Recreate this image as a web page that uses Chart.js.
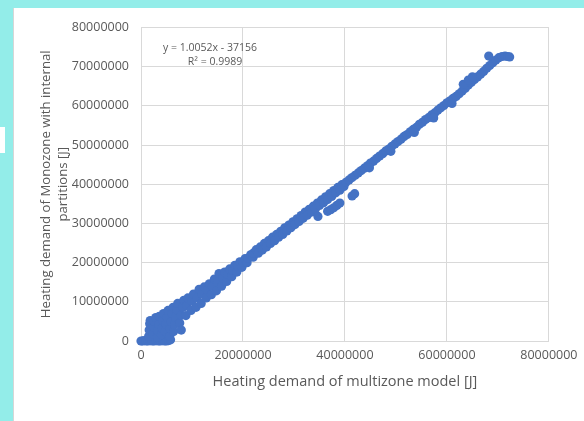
<!DOCTYPE html>
<html>
<head>
<meta charset="utf-8">
<script src="https://cdn.jsdelivr.net/npm/chart.js@4.4.1/dist/chart.umd.min.js"></script>
<style>
  html, body { margin: 0; padding: 0; }
  body { width: 584px; height: 421px; background: #93ede9; position: relative; overflow: hidden; }
  #notch { position: absolute; left: 0; top: 127px; width: 5px; height: 26px; background: #fff; }
  #panel { position: absolute; left: 13px; top: 8px; width: 571px; height: 413px; background: #fff;
           border-left: 1px solid #d6d6d6; box-sizing: border-box; }
  #chart { position: absolute; left: 14px; top: 8px; }
</style>
</head>
<body>
<div id="notch"></div>
<div id="panel"></div>
<canvas id="chart" width="570" height="413"></canvas>
<script>
// Heating demand pairs [multizone, monozone] in MJ (1 MJ = 1e6 J)
const nearZero = [
  [0,0],[0.3,0],[0.6,0.1],[1.0,0],[1.4,0],[1.8,0.1],[2.2,0],[2.6,0],[3.0,0.1],[3.4,0],
  [3.8,0],[4.2,0.1],[4.6,0],[5.0,0],[5.4,0.1],[5.8,0.3],
  [1.5,1.2],[1.6,2.8],[1.7,4.4],[1.8,5.2],
  [2.4,1.8],[2.5,3.5],[2.6,5.0],[2.9,6.0],
  [3.2,1.0],[3.3,2.6],[3.5,4.2],[3.6,6.3],
  [4.0,1.6],[4.1,3.3],[4.3,5.2],[4.4,7.0],
  [4.8,2.4],[4.9,4.2],[5.1,6.0],[5.3,7.8],
  [5.6,1.2],[5.7,3.2],[5.9,5.0],[6.1,7.0],[6.3,8.6],
  [6.4,2.4],[6.6,4.2],[6.8,6.0],[7.0,8.0],[7.2,9.6],
  [7.6,4.6],[7.9,2.8],[7.9,6.6],[8.2,8.6],[8.4,10.4]
];
const lowRange = [
  [8.8,6.5],[9.0,9.0],[9.2,11.0],
  [9.8,7.8],[10.0,10.2],[10.3,12.0],
  [10.8,8.6],[11.0,11.0],[11.4,13.2],
  [11.8,9.6],[12.0,12.0],[12.4,13.8],
  [12.8,11.0],[13.0,13.0],[13.4,14.6],
  [13.8,11.8],[14.0,14.0],[14.4,15.8],
  [14.8,12.8],[15.0,15.0],[15.3,17.2],
  [15.8,14.0],[16.0,16.1],[16.4,17.6],
  [16.8,15.2],[17.0,17.0],[17.4,18.4],
  [17.8,16.4],[18.0,18.0],[18.4,19.3],
  [18.8,17.6],[19.0,19.1],[19.4,20.2],
  [19.8,18.8],[20.0,20.1],[20.4,21.0],
  [20.8,20.0],[21.0,21.1],[21.5,22.0],
  [22.0,21.4],[22.0,22.4]
];
const midRange = [
  [22.6,23.3],[23.4,24.0],[24.2,24.9],[25.0,25.6],[25.8,26.5],[26.6,27.2],[27.4,28.0],
  [28.2,28.9],[29.0,29.6],[29.8,30.4],[30.6,31.2],[31.4,32.0],[32.2,32.9],[33.0,33.6],
  [33.8,34.4],[34.6,35.2],[35.4,36.0],[36.2,36.8],[37.0,37.6],[37.8,38.4],[38.6,39.2],[39.4,39.9],
  [23.0,22.4],[23.8,23.2],[24.6,24.0],[25.4,24.9],[26.2,25.6],[27.0,26.5],[27.8,27.2],
  [28.6,28.1],[29.4,28.9],[30.2,29.7],[31.0,30.5],[31.8,31.3],[32.6,32.1],[33.4,32.9],
  [34.2,33.7],[35.0,34.6],[35.8,35.3],[36.6,36.1],[37.4,36.9],[38.2,37.8],[39.0,38.5],[39.8,39.4]
];
const belowTrend = [
  [34.7,31.8],[36.6,33.1],[37.2,33.5],[37.8,34.0],[38.4,34.6],[39.0,35.2],[41.4,37.0],[41.9,37.6]
];
const highRange = [
  [40.2,40.5],[40.8,41.1],[41.4,41.7],[42.0,42.3],[42.6,42.9],[43.2,43.5],[43.8,44.1],[44.4,44.7],
  [45.0,45.4],[45.6,45.9],[46.2,46.6],[46.8,47.2],[47.4,47.8],[48.0,48.5],[48.6,49.0],[49.2,49.7],
  [49.8,50.3],[50.4,50.9],[51.0,51.5],[51.6,52.2],[52.2,52.7],[52.8,53.4],[53.4,54.0],[54.0,54.5],
  [54.6,55.3],[55.2,55.8],[55.8,56.5],[56.4,57.0],[57.0,57.7],[57.6,58.2],[58.2,58.9],[58.8,59.5],
  [59.4,60.1],[60.0,60.8],[60.6,61.3],[61.2,61.9],[61.8,62.4],[62.4,63.1],[63.0,63.8],[63.6,64.5],
  [64.2,65.3],[64.8,66.0],[65.4,66.7],[66.0,67.4],[66.6,68.1],[67.2,68.8],[67.8,69.6],[68.4,70.3],
  [69.0,71.0],[69.6,71.7],[70.2,72.3],
  [44.8,44.2],[49.0,48.4],[53.6,53.2],[57.4,56.9],[61.0,60.6],
  [63.2,65.5],[64.2,66.6],[65.0,67.4],
  [68.2,72.7],[70.8,72.6],[71.4,72.7],[71.9,72.6],[72.3,72.5]
];

// Linear trendline statistics
const slope = 1.0052;
const intercept = -37156;
const rSquared = 0.9989;

// Axis ranges and tick steps (J)
const axisMax = 80000000;
const xStep = 20000000;
const yStep = 10000000;

const MJ = 1e6;
const points = [...nearZero, ...lowRange, ...midRange, ...belowTrend, ...highRange]
  .map(([x, y]) => ({ x: x * MJ, y: y * MJ }));

const textColor = '#595959';
const gridColor = '#d9d9d9';
Chart.defaults.font.family = "'Open Sans', sans-serif";

const trendLabel = {
  id: 'trendLabel',
  afterDatasetsDraw(chart) {
    const { ctx, chartArea: a } = chart;
    ctx.save();
    ctx.fillStyle = textColor;
    ctx.font = "10.5px 'Open Sans', sans-serif";
    ctx.textAlign = 'center';
    ctx.textBaseline = 'middle';
    const sign = intercept < 0 ? ' - ' : ' + ';
    ctx.fillText('y = ' + slope + 'x' + sign + Math.abs(intercept), a.left + 69, a.top + 21);
    ctx.fillText('R\u00B2 = ' + rSquared, a.left + 74, a.top + 35);
    ctx.restore();
  }
};

new Chart(document.getElementById('chart'), {
  type: 'scatter',
  data: {
    datasets: [{
      data: points,
      backgroundColor: '#4472c4',
      borderColor: '#4472c4',
      pointRadius: 4.6,
      pointHoverRadius: 4.6,
      pointBorderWidth: 0,
      clip: false
    }]
  },
  options: {
    responsive: false,
    animation: false,
    devicePixelRatio: 1,
    layout: { padding: { left: 0, top: 16, right: 29, bottom: 0 } },
    plugins: { legend: { display: false }, tooltip: { enabled: false } },
    scales: {
      x: {
        type: 'linear',
        min: 0,
        max: axisMax,
        afterFit(scale) { scale.height = 80; },
        ticks: { stepSize: xStep, color: textColor, font: { size: 12.5 }, padding: 6.5,
                 maxRotation: 0, autoSkip: false, callback: v => String(v) },
        grid: { color: gridColor, drawTicks: false },
        border: { color: gridColor },
        title: { display: true, text: 'Heating demand of multizone model [J]', color: textColor,
                 font: { size: 14.5 }, padding: { top: 0, bottom: 30.3 } }
      },
      y: {
        type: 'linear',
        min: 0,
        max: axisMax,
        afterFit(scale) { scale.width = 127; },
        ticks: { stepSize: yStep, color: textColor, font: { size: 12.5 }, padding: 12,
                 autoSkip: false, callback: v => String(v) },
        grid: { color: gridColor, drawTicks: false },
        border: { color: gridColor },
        title: { display: true, text: ['Heating demand of Monozone with internal', 'partitions [J]'],
                 color: textColor, font: { size: 13.2, lineHeight: 1.3 }, padding: { top: 23.4, bottom: 0 } }
      }
    }
  },
  plugins: [trendLabel]
});
</script>
</body>
</html>
